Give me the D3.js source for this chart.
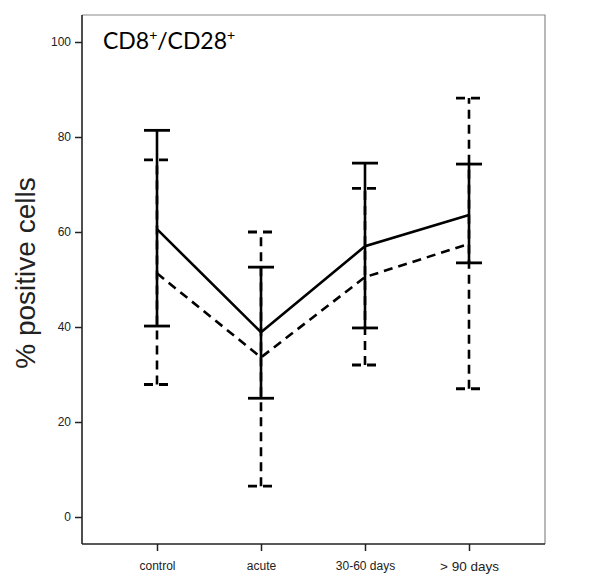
<!DOCTYPE html>
<html lang="en">
  <head>
    <meta charset="UTF-8" />
    <title>CD8+/CD28+</title>
    <script src="https://d3js.org/d3.v7.min.js"></script>
    <style>
      body {
        margin: 0;
        background: #fff;
      }
      .tick text {
        font-family: "Liberation Sans", Arial, sans-serif;
        fill: #222;
      }
    </style>
  </head>
  <body>
    <div id="chart"></div>
    <script>
      // groups along the x axis
      const groups = ["control", "acute", "30-60 days", "> 90 days"];
      const yTicks = [0, 20, 40, 60, 80, 100];

      // solid series: mean with lower / upper error bar ends
      const solidMean = [60.6, 38.9, 57.0, 63.6];
      const solidLow = [40.2, 25.0, 39.8, 53.5];
      const solidHigh = [81.4, 52.6, 74.5, 74.3];

      // dashed series
      const dashMean = [51.3, 33.6, 50.5, 57.5];
      const dashLow = [27.9, 6.5, 32.0, 27.0];
      const dashHigh = [75.2, 60.0, 69.2, 88.2];

      const W = 600,
        H = 579;
      const frame = { left: 82, top: 15, right: 545, bottom: 544 };

      const svg = d3
        .select("#chart")
        .append("svg")
        .attr("width", W)
        .attr("height", H);

      const x = d3
        .scalePoint()
        .domain(groups)
        .range([157, 469]);

      const y = d3.scaleLinear().domain([0, 100]).range([517, 42]);

      // frame: top and right in grey
      svg
        .append("path")
        .attr(
          "d",
          `M${frame.left},${frame.top}H${frame.right}V${frame.bottom}`
        )
        .attr("fill", "none")
        .attr("stroke", "#8a8a8a")
        .attr("stroke-width", 1.2);

      // y axis
      const yAxis = svg
        .append("g")
        .attr("transform", `translate(${frame.left},0)`)
        .call(
          d3
            .axisLeft(y)
            .tickValues(yTicks)
            .tickSize(7)
            .tickPadding(4)
            .tickSizeOuter(0)
        );
      yAxis.select(".domain").remove();
      yAxis.selectAll(".tick line").attr("stroke", "#222").attr("stroke-width", 1.5);
      yAxis.selectAll(".tick text").attr("font-size", 12);
      svg
        .append("line")
        .attr("x1", frame.left)
        .attr("x2", frame.left)
        .attr("y1", frame.top)
        .attr("y2", frame.bottom)
        .attr("stroke", "#222")
        .attr("stroke-width", 1.6);

      // x axis
      const xAxis = svg
        .append("g")
        .attr("transform", `translate(0,${frame.bottom})`)
        .call(d3.axisBottom(x).tickSize(7).tickPadding(10).tickSizeOuter(0));
      xAxis.select(".domain").remove();
      xAxis.selectAll(".tick line").attr("stroke", "#222").attr("stroke-width", 1.5);
      xAxis
        .selectAll(".tick text")
        .attr("font-size", (d) => (d === "> 90 days" ? 13.5 : 12));
      svg
        .append("line")
        .attr("x1", frame.left)
        .attr("x2", frame.right)
        .attr("y1", frame.bottom)
        .attr("y2", frame.bottom)
        .attr("stroke", "#222")
        .attr("stroke-width", 1.6);

      // y axis title
      svg
        .append("text")
        .attr("transform", "translate(35,273) rotate(-90)")
        .attr("text-anchor", "middle")
        .attr("font-family", "'Liberation Sans', Arial, sans-serif")
        .attr("font-size", 28)
        .attr("fill", "#222")
        .text("% positive cells");

      // panel title
      const title = svg
        .append("text")
        .attr("x", 103)
        .attr("y", 49)
        .attr("font-family", "Lato, 'Open Sans', sans-serif")
        .attr("font-size", 23)
        .attr("fill", "#000");
      title.append("tspan").text("CD8");
      title.append("tspan").attr("font-size", 14).attr("dy", -9).text("+");
      title.append("tspan").attr("dy", 9).text("/CD28");
      title.append("tspan").attr("font-size", 14).attr("dy", -9).text("+");

      const line = d3
        .line()
        .x((d) => x(d.g))
        .y((d) => y(d.v));

      function drawSeries(mean, low, high, dash, capW) {
        const g = svg.append("g");
        const pts = groups.map((gr, i) => ({
          g: gr,
          v: mean[i],
          lo: low[i],
          hi: high[i],
        }));
        g.selectAll(".bar")
          .data(pts)
          .enter()
          .append("line")
          .attr("x1", (d) => x(d.g))
          .attr("x2", (d) => x(d.g))
          .attr("y1", (d) => y(d.lo))
          .attr("y2", (d) => y(d.hi))
          .attr("stroke", "#000")
          .attr("stroke-width", 2.6)
          .attr("stroke-dasharray", dash);
        ["lo", "hi"].forEach((k) => {
          g.selectAll(".cap-" + k)
            .data(pts)
            .enter()
            .append("line")
            .attr("x1", (d) => x(d.g) - capW)
            .attr("x2", (d) => x(d.g) + capW)
            .attr("y1", (d) => y(d[k]))
            .attr("y2", (d) => y(d[k]))
            .attr("stroke", "#000")
            .attr("stroke-width", 2.8)
            .attr("stroke-dasharray", dash);
        });
        g.append("path")
          .datum(pts)
          .attr("d", line)
          .attr("fill", "none")
          .attr("stroke", "#000")
          .attr("stroke-width", 2.6)
          .attr("stroke-dasharray", dash);
      }

      drawSeries(dashMean, dashLow, dashHigh, "9,6", 13);
      drawSeries(solidMean, solidLow, solidHigh, null, 13);
    </script>
  </body>
</html>
